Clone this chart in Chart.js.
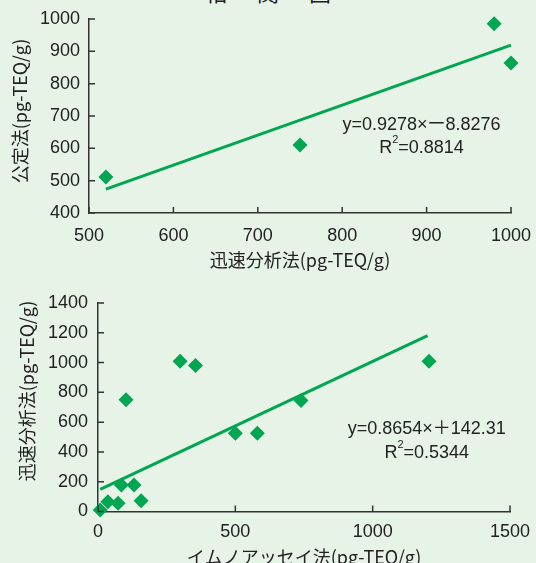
<!DOCTYPE html>
<html>
<head>
<meta charset="utf-8">
<script src="https://cdn.jsdelivr.net/npm/chart.js@4.4.0/dist/chart.umd.min.js"></script>
<style>
  body { margin: 0; width: 536px; height: 563px; overflow: hidden; position: relative; background: #e7f3e6; }
  #title { position: absolute; left: 0; top: -25px; width: 536px; text-align: center; padding-left: 30px; box-sizing: border-box;
           font: 22px "Noto Sans CJK JP", sans-serif; letter-spacing: 30px; color: #222; }
  .box { position: absolute; left: 0; width: 536px; }
</style>
</head>
<body>
<div id="title">相関図</div>
<div class="box" style="top:0;height:280px"><canvas id="c1"></canvas></div>
<div class="box" style="top:280px;height:283px"><canvas id="c2"></canvas></div>
<script>
// 上: 迅速分析法 vs 公定法
const jinsokuX = [520, 750, 980, 1000];
const kouteiY = [511, 610, 985, 864];
const fit1X = [520, 1000];
const fit1Y = [474, 919];
const ticks1X = [500, 600, 700, 800, 900, 1000];
const ticks1Y = [400, 500, 600, 700, 800, 900, 1000];

// 下: イムノアッセイ法 vs 迅速分析法
const immunoX = [8, 36, 73, 85, 131, 157, 102, 299, 355, 500, 580, 739, 1205];
const jinsokuY = [10, 66, 55, 178, 178, 73, 751, 1009, 980, 526, 526, 746, 1009];
const fit2X = [8, 1200];
const fit2Y = [149, 1181];
const ticks2X = [0, 500, 1000, 1500];
const ticks2Y = [0, 200, 400, 600, 800, 1000, 1200, 1400];

const GREEN = '#00a651';
const INK = '#222';
const NUM_FONT = '"Liberation Sans", "Noto Sans CJK JP", sans-serif';
const JP_FONT = '"Noto Sans CJK JP", sans-serif';

const pts = (xs, ys) => xs.map((v, i) => ({ x: v, y: ys[i] }));

// 内向きの目盛り、縦軸タイトル、回帰式
const extras = {
  id: 'extras',
  afterDraw(chart, args, o) {
    const { ctx, chartArea: a, scales: { x, y } } = chart;
    ctx.save();
    ctx.strokeStyle = '#333';
    ctx.lineWidth = 1.5;
    ctx.beginPath();
    x.ticks.forEach(t => {
      const px = x.getPixelForValue(t.value);
      ctx.moveTo(px, a.bottom); ctx.lineTo(px, a.bottom - 6);
    });
    y.ticks.forEach(t => {
      const py = y.getPixelForValue(t.value);
      ctx.moveTo(a.left, py); ctx.lineTo(a.left + 6, py);
    });
    ctx.stroke();

    ctx.fillStyle = INK;
    ctx.textAlign = 'center';
    ctx.textBaseline = 'middle';
    ctx.save();
    ctx.translate(o.yTitleX, o.yTitleY);
    ctx.rotate(-Math.PI / 2);
    ctx.font = '18px ' + JP_FONT;
    ctx.fillText(o.yTitle, 0, 0);
    ctx.restore();

    const cx = x.getPixelForValue(o.eqX);
    ctx.font = '18px ' + NUM_FONT;
    ctx.fillText(o.eq, cx, y.getPixelForValue(o.eqY));
    // R² の行
    const ry = y.getPixelForValue(o.r2Y);
    const rest = '=' + o.r2;
    ctx.textAlign = 'left';
    const wR = ctx.measureText('R').width;
    const wRest = ctx.measureText(rest).width;
    ctx.font = '11px ' + NUM_FONT;
    const w2 = ctx.measureText('2').width;
    let sx = cx - (wR + w2 + wRest) / 2;
    ctx.font = '18px ' + NUM_FONT;
    ctx.fillText('R', sx, ry);
    ctx.font = '11px ' + NUM_FONT;
    ctx.fillText('2', sx + wR, ry - 8);
    ctx.font = '18px ' + NUM_FONT;
    ctx.fillText(rest, sx + wR + w2, ry);
    ctx.restore();
  }
};

function makeChart(id, c) {
  return new Chart(document.getElementById(id), {
    type: 'scatter',
    data: {
      datasets: [
        {
          data: pts(c.xs, c.ys),
          pointStyle: 'rectRot',
          pointRadius: 7.5,
          pointHoverRadius: 7.5,
          backgroundColor: GREEN,
          borderWidth: 0,
          clip: false
        },
        {
          data: pts(c.fitX, c.fitY),
          showLine: true,
          borderColor: GREEN,
          borderWidth: 3,
          pointRadius: 0,
          clip: false
        }
      ]
    },
    options: {
      responsive: true,
      maintainAspectRatio: false,
      animation: false,
      layout: { padding: { top: c.padTop, right: c.padRight, left: 0, bottom: 0 } },
      plugins: {
        legend: { display: false },
        tooltip: { enabled: false },
        extras: c.extras
      },
      scales: {
        x: {
          type: 'linear',
          min: c.xTicks[0],
          max: c.xTicks[c.xTicks.length - 1],
          afterBuildTicks: s => { s.ticks = c.xTicks.map(v => ({ value: v })); },
          afterFit: s => { s.height = c.xAxisH; s.paddingLeft = 0; s.paddingRight = 0; },
          grid: { display: false, drawTicks: false },
          border: { display: true, color: '#333', width: 1.5 },
          ticks: { color: INK, font: { size: 18, family: NUM_FONT }, padding: c.xPad, maxRotation: 0, autoSkip: false,
                   callback: v => String(v) },
          title: { display: true, text: c.xTitle, color: INK, font: { size: 18, family: JP_FONT, lineHeight: 1 },
                   padding: { top: 0, bottom: c.xTitlePad } }
        },
        y: {
          type: 'linear',
          min: c.yTicks[0],
          max: c.yTicks[c.yTicks.length - 1],
          afterBuildTicks: s => { s.ticks = c.yTicks.map(v => ({ value: v })); },
          afterFit: s => { s.width = c.yAxisW; s.paddingTop = 0; s.paddingBottom = 0; },
          grid: { display: false, drawTicks: false },
          border: { display: true, color: '#333', width: 1.5 },
          ticks: { color: INK, font: { size: 18, family: NUM_FONT }, padding: c.yPad, autoSkip: false,
                   callback: v => String(v) }
        }
      }
    },
    plugins: [extras]
  });
}

makeChart('c1', {
  xs: jinsokuX, ys: kouteiY, fitX: fit1X, fitY: fit1Y,
  xTicks: ticks1X, yTicks: ticks1Y,
  padTop: 19, padRight: 25, xAxisH: 67, yAxisW: 89, xPad: 12, yPad: 9, xTitlePad: 11,
  xTitle: '迅速分析法(pg-TEQ/g)',
  extras: { yTitle: '公定法(pg-TEQ/g)', yTitleX: 20, yTitleY: 111,
            eq: 'y=0.9278×ー8.8276', eqX: 894, eqY: 672, r2: '0.8814', r2Y: 601 }
});

makeChart('c2', {
  xs: immunoX, ys: jinsokuY, fitX: fit2X, fitY: fit2Y,
  xTicks: ticks2X, yTicks: ticks2Y,
  padTop: 23, padRight: 26, xAxisH: 51.5, yAxisW: 98, xPad: 10, yPad: 10, xTitlePad: -3,
  xTitle: 'イムノアッセイ法(pg-TEQ/g)',
  extras: { yTitle: '迅速分析法(pg-TEQ/g)', yTitleX: 27, yTitleY: 111,
            eq: 'y=0.8654×＋142.31', eqX: 1197, eqY: 553, r2: '0.5344', r2Y: 394 }
});
</script>
</body>
</html>
